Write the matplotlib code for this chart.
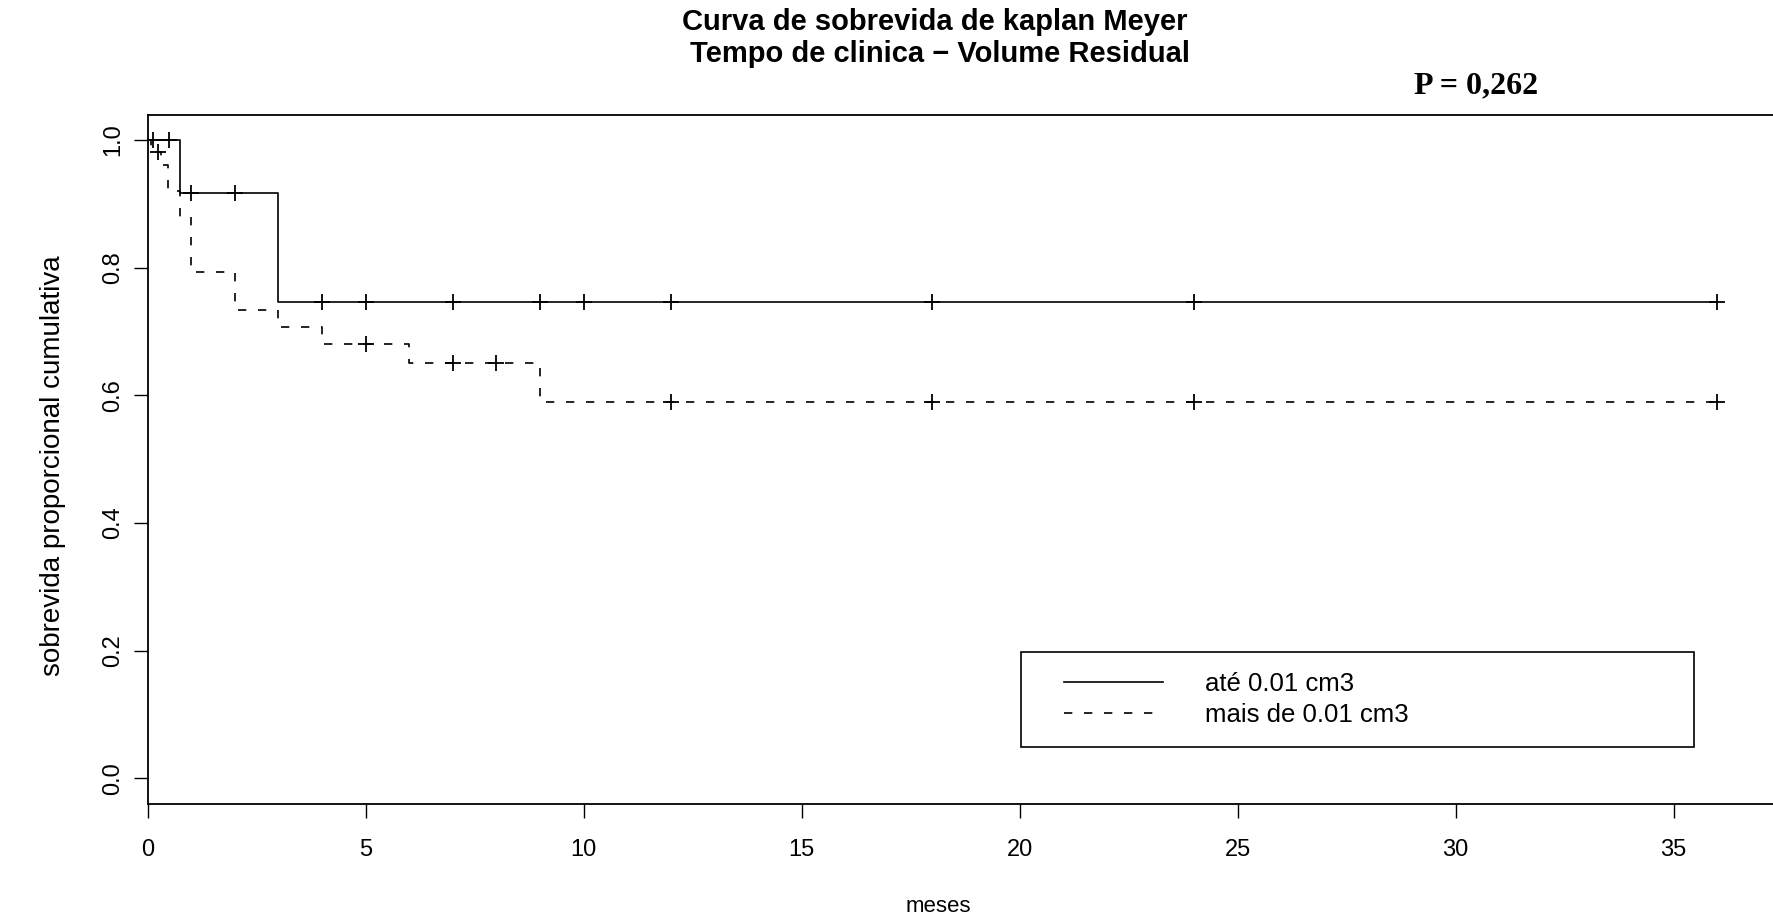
import matplotlib.pyplot as plt
from matplotlib.legend_handler import HandlerLine2D

# survival curve "até 0.01 cm3" (solid)
solid_times = [0, 0.75, 3.0, 36]
solid_surv = [1.0, 0.917, 0.746, 0.746]
solid_cens_t = [0.13, 0.5, 1.0, 2.0, 4, 5, 7, 9, 10, 12, 18, 24, 36]
solid_cens_s = [1.0, 1.0, 0.917, 0.917, 0.746, 0.746, 0.746, 0.746, 0.746,
                0.746, 0.746, 0.746, 0.746]

# survival curve "mais de 0.01 cm3" (dashed)
dashed_times = [0, 0.07, 0.3, 0.47, 0.75, 1.0, 2.0, 3.0, 4.0, 6.0, 9.0, 36]
dashed_surv = [1.0, 0.981, 0.961, 0.92, 0.880, 0.794, 0.733, 0.707, 0.680,
               0.650, 0.590, 0.590]
dashed_cens_t = [0.25, 5, 7, 8, 12, 18, 24, 36]
dashed_cens_s = [0.981, 0.680, 0.650, 0.650, 0.590, 0.590, 0.590, 0.590]

labels = ["até 0.01 cm3", "mais de 0.01 cm3"]
x_ticks = [0, 5, 10, 15, 20, 25, 30, 35]
y_ticks = [0.0, 0.2, 0.4, 0.6, 0.8, 1.0]


def main():
    """Kaplan-Meier curves, tempo de clinica por volume residual."""
    plt.rcParams['font.family'] = ['Liberation Sans', 'DejaVu Sans']
    W, H = 1773, 918
    fig = plt.figure(figsize=(W / 100, H / 100), dpi=100)
    ax = fig.add_axes([147.5 / W, 114 / H, 1626 / W, 689.5 / H])

    ax.step(solid_times, solid_surv, where='post', color='black', lw=1.2,
            label=labels[0])
    ax.step(dashed_times, dashed_surv, where='post', color='black', lw=1.2,
            dashes=(5, 7), label=labels[1])
    ax.plot(solid_cens_t, solid_cens_s, linestyle='none', marker='+',
            color='black', markersize=12, markeredgewidth=1.3)
    ax.plot(dashed_cens_t, dashed_cens_s, linestyle='none', marker='+',
            color='black', markersize=12, markeredgewidth=1.3)

    ax.set_xlim(0, 1626 / 43.6)
    ax.set_ylim(-0.04, 1.04)
    ax.spines['right'].set_visible(False)
    for s in ['left', 'top', 'bottom']:
        ax.spines[s].set_linewidth(1.3)

    ax.set_xticks(x_ticks)
    ax.set_yticks(y_ticks)
    ax.set_yticklabels([f"{v:.1f}" for v in y_ticks], rotation=90, va='center')
    ax.tick_params(axis='x', length=10.4, width=1, pad=14.9, labelsize=17)
    ax.tick_params(axis='y', length=10.4, width=1, pad=6.5, labelsize=17)

    ax.set_xlabel("meses", fontsize=16)
    ax.xaxis.set_label_coords((938 - 147.5) / 1626, (804 - 912) / 689.5)
    ax.xaxis.label.set_verticalalignment('baseline')
    ax.set_ylabel("sobrevida proporcional cumulativa", fontsize=20)
    ax.yaxis.set_label_coords((53 - 147.5) / 1626, 0.49)
    ax.yaxis.label.set_verticalalignment('center')

    leg = ax.legend(loc='lower left', mode='expand',
                    bbox_to_anchor=(0.537, 0.0827, 0.414, 0.139),
                    fontsize=18.5, handlelength=4.76, handletextpad=1.63,
                    borderpad=0.77, labelspacing=0.29, fancybox=False,
                    framealpha=1, edgecolor='black', borderaxespad=0,
                    handler_map={type(ax.lines[0]): HandlerLine2D(xpad=0.9)})
    leg.get_frame().set_linewidth(1.2)

    fig.text(935 / W, 1 - 22 / H, "Curva de sobrevida de kaplan Meyer",
             ha='center', va='center', fontsize=21, fontweight='bold')
    fig.text(940 / W, 1 - 54 / H, "Tempo de clinica \u2212 Volume Residual",
             ha='center', va='center', fontsize=21, fontweight='bold')
    fig.text(1476 / W, 1 - 86 / H, "P = 0,262", ha='center', va='center',
             fontsize=23, fontweight='bold', family='Liberation Serif')

    fig.savefig("out.png", dpi=100)


if __name__ == "__main__":
    main()
